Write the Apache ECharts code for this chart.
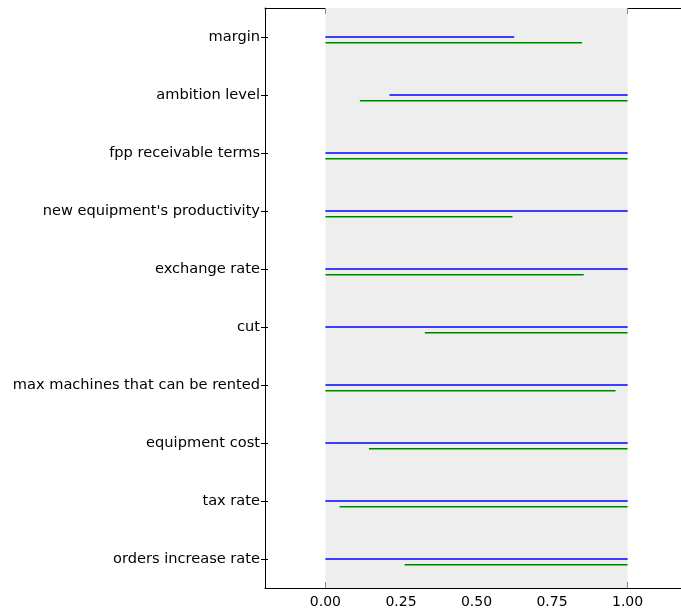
<!DOCTYPE html>
<html>
<head>
<meta charset="utf-8">
<script src="https://cdn.jsdelivr.net/npm/echarts@6/dist/echarts.min.js"></script>
<style>
  html, body { margin: 0; padding: 0; background: #fff; overflow: hidden; }
  /* the figure is a few pixels wider than the window; its right edge is cropped */
  #chart { width: 688px; height: 609px; }
</style>
</head>
<body>
<div id="chart"></div>
<script>
// Parameters, top to bottom
const categories = [
  'margin',
  'ambition level',
  'fpp receivable terms',
  "new equipment's productivity",
  'exchange rate',
  'cut',
  'max machines that can be rented',
  'equipment cost',
  'tax rate',
  'orders increase rate'
];

// Interval [start, end] for each parameter, first run (blue)
const blueStart = [0, 0.212, 0, 0, 0, 0, 0, 0, 0, 0];
const blueEnd   = [0.625, 1, 1, 1, 1, 1, 1, 1, 1, 1];

// Interval [start, end] for each parameter, second run (green)
const greenStart = [0, 0.114, 0, 0, 0, 0.329, 0, 0.144, 0.047, 0.262];
const greenEnd   = [0.849, 1, 1, 0.619, 0.855, 1, 0.960, 1, 1, 1];

const xTicks = [0, 0.25, 0.5, 0.75, 1];
const yTickPositions = categories.map((_, i) => i);

const FONT = 'DejaVu Sans';
const GREEN_SHIFT = 0.1; // green segment sits just below the blue one

function segmentData(starts, ends, shift) {
  return starts.map((s, i) => [s, ends[i], i + shift]);
}

function renderSegment(color) {
  return function (params, api) {
    const p0 = api.coord([api.value(0), api.value(2)]);
    const p1 = api.coord([api.value(1), api.value(2)]);
    return {
      type: 'line',
      shape: { x1: p0[0], y1: p0[1], x2: p1[0], y2: p1[1] },
      style: { stroke: color, lineWidth: 1.5 }
    };
  };
}

const chart = echarts.init(document.getElementById('chart'), null, { renderer: 'canvas' });

chart.setOption({
  animation: false,
  backgroundColor: '#ffffff',
  grid: { left: 265, right: 0, top: 8, bottom: 21, containLabel: false },
  xAxis: [
    {
      type: 'value', min: -0.2, max: 1.2, position: 'bottom',
      axisLine: { show: true, onZero: false, lineStyle: { color: '#000', width: 1 } },
      axisTick: { show: true, inside: true, length: 6, customValues: xTicks, lineStyle: { color: '#000' } },
      axisLabel: { show: true, customValues: xTicks, margin: 7, color: '#000',
        fontFamily: FONT, fontSize: 14, formatter: v => v.toFixed(2) },
      splitLine: { show: false }
    },
    {
      type: 'value', min: -0.2, max: 1.2, position: 'top',
      axisLine: { show: true, onZero: false, lineStyle: { color: '#000', width: 1 } },
      axisTick: { show: true, inside: true, length: 6, customValues: xTicks, lineStyle: { color: '#000' } },
      axisLabel: { show: false },
      splitLine: { show: false }
    }
  ],
  yAxis: [
    {
      type: 'category', data: categories, inverse: true, boundaryGap: true, position: 'left',
      axisLine: { show: true, onZero: false, lineStyle: { color: '#000', width: 1 } },
      axisTick: { show: true, alignWithLabel: true, length: 4, lineStyle: { color: '#000' } },
      axisLabel: { color: '#000', fontFamily: FONT, fontSize: 14.6, margin: 5 },
      splitLine: { show: false }
    },
    {
      type: 'value', min: -0.5, max: 9.5, inverse: true, position: 'left',
      axisLine: { show: false, onZero: false },
      axisTick: { show: true, inside: true, length: 3, customValues: yTickPositions, lineStyle: { color: '#000' } },
      axisLabel: { show: false },
      splitLine: { show: false }
    }
  ],
  series: [
    {
      // shaded unit interval [0, 1]
      type: 'custom', xAxisIndex: 0, yAxisIndex: 1, silent: true, z: 1,
      data: [[0, 1, -0.5, 9.5]],
      renderItem: function (params, api) {
        const a = api.coord([api.value(0), api.value(2)]);
        const b = api.coord([api.value(1), api.value(3)]);
        return {
          type: 'rect',
          shape: { x: a[0], y: a[1], width: b[0] - a[0], height: b[1] - a[1] },
          style: { fill: '#eeeeee' }
        };
      }
    },
    {
      type: 'custom', name: 'blue', xAxisIndex: 0, yAxisIndex: 1, z: 3,
      data: segmentData(blueStart, blueEnd, 0),
      encode: { x: [0, 1], y: 2 },
      renderItem: renderSegment('#0000ff')
    },
    {
      type: 'custom', name: 'green', xAxisIndex: 0, yAxisIndex: 1, z: 3,
      data: segmentData(greenStart, greenEnd, GREEN_SHIFT),
      encode: { x: [0, 1], y: 2 },
      renderItem: renderSegment('#008000')
    }
  ]
});
</script>
</body>
</html>
